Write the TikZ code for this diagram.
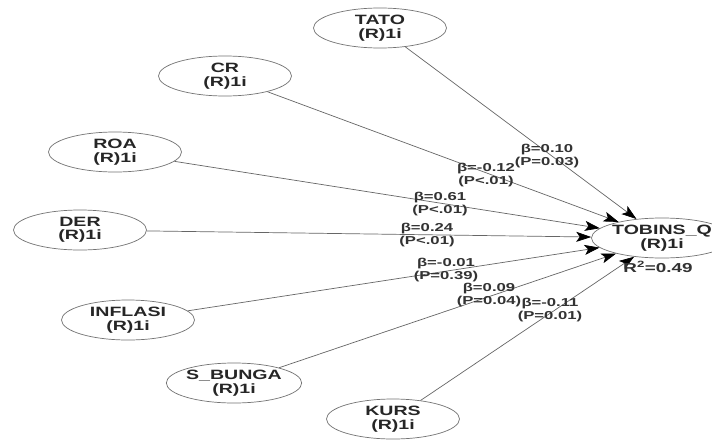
\documentclass[tikz,border=0pt]{standalone}
\usepackage{fontspec}
\setmainfont{Liberation Sans}[FakeStretch=1.45]
\usetikzlibrary{shapes.geometric,arrows.meta}
\begin{document}
\begin{tikzpicture}[x=1pt,y=-1pt,
  lv/.style={ellipse,draw=black!55,line width=0.7pt,minimum width=133pt,minimum height=40pt,
    inner sep=0pt,align=center,font=\bfseries\fontsize{13.5}{13.5}\selectfont,text=black!85},
  pathline/.style={draw=black!60,line width=0.7pt,-{Stealth[length=15pt,width=10pt,inset=3.5pt,black]}},
  coef/.style={align=center,font=\bfseries\fontsize{11.5}{13}\selectfont,text=black!80,inner sep=0pt}]
\useasboundingbox[fill=white] (0,0) rectangle (712,439);
\node[lv] (tato) at (380,28) {TATO\\(R)1i};
\node[lv] (cr) at (225,76) {CR\\(R)1i};
\node[lv] (roa) at (115,152) {ROA\\(R)1i};
\node[lv] (der) at (80,230) {DER\\(R)1i};
\node[lv] (inf) at (128,320) {INFLASI\\(R)1i};
\node[lv] (sb) at (234,383) {S\_BUNGA\\(R)1i};
\node[lv] (kurs) at (393,419) {KURS\\(R)1i};
\node[lv] (tq) at (662,238) {TOBINS\_Q\\(R)1i};
\draw[pathline] (tato) -- (tq);
\draw[pathline] (cr) -- (tq);
\draw[pathline] (roa) -- (tq);
\draw[pathline] (der) -- (tq);
\draw[pathline] (inf) -- (tq);
\draw[pathline] (sb) -- (tq);
\draw[pathline] (kurs) -- (tq);
\node[coef] (ltato) at (547,156) {β=0.10\\(P=0.03)};
\node[coef] (lcr) at (486,175) {β=-0.12\\(P<.01)};
\node[coef] (lroa) at (440,204) {β=0.61\\(P<.01)};
\node[coef] (lder) at (427,235) {β=0.24\\(P<.01)};
\node[coef] (linf) at (446,270) {β=-0.01\\(P=0.39)};
\node[coef] (lsb) at (489,295) {β=0.09\\(P=0.04)};
\node[coef] (lkurs) at (550,310) {β=-0.11\\(P=0.01)};
\node[coef,font=\bfseries\fontsize{13}{13}\selectfont] (r2) at (658,267) {R\textsuperscript{2}=0.49};
\end{tikzpicture}
\end{document}
